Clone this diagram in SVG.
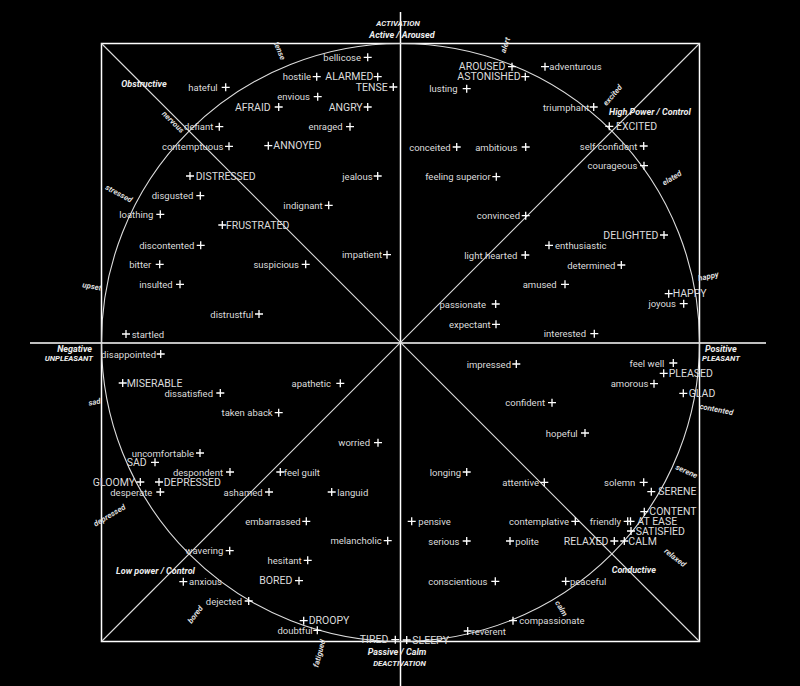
<svg xmlns="http://www.w3.org/2000/svg" xmlns:xlink="http://www.w3.org/1999/xlink" width="800" height="686" viewBox="0 0 800 686">
<defs>
<style>
.t{font-family:Roboto,"Liberation Sans",sans-serif;font-size:9.5px;fill:#dcdcdc}
.u{font-size:10.5px}
.e{text-anchor:end}
.b{font-family:Roboto,"Liberation Sans",sans-serif;font-weight:bold;font-style:italic;font-size:9px;fill:#eeeeee}
.s{font-size:7.8px}
.m{text-anchor:middle}
.c{font-family:Roboto,"Liberation Sans",sans-serif;font-weight:bold;font-style:italic;font-size:7.8px;fill:#dddddd;text-anchor:middle}
.ln{stroke:#ffffff;stroke-width:1.5;fill:none}
.th{stroke:#dddddd;stroke-width:1.1;fill:none}
</style>
<path id="x" d="M-4 0H4M0-4V4" stroke="#ffffff" stroke-width="1.3"/>
</defs>
<rect width="800" height="686" fill="#000000"/>
<g id="connectors">
<rect class="ln" x="101.5" y="43.5" width="598" height="598"/>
<line class="ln" x1="400.5" y1="12" x2="400.5" y2="686"/>
<line class="ln" x1="30" y1="343" x2="766" y2="343"/>
<line class="th" x1="101.5" y1="43.5" x2="699.5" y2="641.5"/>
<line class="th" x1="699.5" y1="43.5" x2="101.5" y2="641.5"/>
<circle class="th" cx="400.5" cy="342.5" r="299"/>
</g>
<g id="axis-labels">
<text class="b s m" x="398" y="26">ACTIVATION</text>
<text class="b m" x="402" y="37.5">Active / Aroused</text>
<text class="b m" x="397" y="655">Passive / Calm</text>
<text class="b s m" x="399.5" y="665.5">DEACTIVATION</text>
<text class="b e" x="92" y="352">Negative</text>
<text class="b s e" x="93" y="360.5">UNPLEASANT</text>
<text class="b" x="705" y="352">Positive</text>
<text class="b s" x="702" y="361">PLEASANT</text>
<text class="b" x="121.3" y="86.5">Obstructive</text>
<text class="b" x="609" y="115">High Power / Control</text>
<text class="b" x="116" y="574">Low power / Control</text>
<text class="b" x="611.7" y="573">Conductive</text>
</g>
<g id="circle-labels">
<text class="c" transform="translate(280,50.7) rotate(67.6)" y="3">tense</text>
<text class="c" transform="translate(505,45) rotate(-70.5)" y="3">alert</text>
<text class="c" transform="translate(612.3,95) rotate(-49.3)" y="3">excited</text>
<text class="c" transform="translate(671.7,177.7) rotate(-31.2)" y="3">elated</text>
<text class="c" transform="translate(708.3,276) rotate(-12)" y="3">happy</text>
<text class="c" transform="translate(716.5,409) rotate(11)" y="3">contented</text>
<text class="c" transform="translate(686.7,471) rotate(24.2)" y="3">serene</text>
<text class="c" transform="translate(675.3,557.3) rotate(38)" y="3">relaxed</text>
<text class="c" transform="translate(561.7,608.3) rotate(58.7)" y="3">calm</text>
<text class="c" transform="translate(319,653.3) rotate(-75.4)" y="3">fatigued</text>
<text class="c" transform="translate(195,614.3) rotate(-53)" y="3">bored</text>
<text class="c" transform="translate(109.3,515) rotate(-30.8)" y="3">depressed</text>
<text class="c" transform="translate(94.3,401.7) rotate(-11)" y="3">sad</text>
<text class="c" transform="translate(92,286) rotate(10.3)" y="3">upset</text>
<text class="c" transform="translate(119,193.3) rotate(27.9)" y="3">stressed</text>
<text class="c" transform="translate(173.3,121.7) rotate(44.2)" y="3">nervous</text>
</g>
<g id="nodes">
<g id="n-bellicose"><use xlink:href="#x" x="367.7" y="57.3"/><text class="t e" x="361" y="60.8">bellicose</text></g>
<g id="n-hostile"><use xlink:href="#x" x="316.7" y="76.7"/><text class="t e" x="311" y="80.2">hostile</text></g>
<g id="n-alarmed"><use xlink:href="#x" x="377.7" y="76.7"/><text class="t u e" x="373.3" y="80.4">ALARMED</text></g>
<g id="n-tense"><use xlink:href="#x" x="393.3" y="87"/><text class="t u e" x="387.7" y="90.7">TENSE</text></g>
<g id="n-hateful"><use xlink:href="#x" x="225.7" y="87.3"/><text class="t e" x="217.7" y="90.8">hateful</text></g>
<g id="n-envious"><use xlink:href="#x" x="317.7" y="96.7"/><text class="t e" x="310" y="100.2">envious</text></g>
<g id="n-afraid"><use xlink:href="#x" x="278.7" y="107"/><text class="t u e" x="270.7" y="110.7">AFRAID</text></g>
<g id="n-angry"><use xlink:href="#x" x="367.7" y="107"/><text class="t u e" x="362.7" y="110.7">ANGRY</text></g>
<g id="n-defiant"><use xlink:href="#x" x="219.3" y="126.7"/><text class="t e" x="213.3" y="130.2">defiant</text></g>
<g id="n-enraged"><use xlink:href="#x" x="350" y="126.7"/><text class="t e" x="342.7" y="130.2">enraged</text></g>
<g id="n-contemptuous"><use xlink:href="#x" x="229" y="146.3"/><text class="t e" x="223.3" y="149.8">contemptuous</text></g>
<g id="n-annoyed"><use xlink:href="#x" x="268.3" y="145.7"/><text class="t u" x="273.3" y="149.4">ANNOYED</text></g>
<g id="n-aroused"><use xlink:href="#x" x="512" y="66.7"/><text class="t u e" x="505.3" y="70.4">AROUSED</text></g>
<g id="n-astonished"><use xlink:href="#x" x="525.3" y="76.7"/><text class="t u e" x="520.7" y="80.4">ASTONISHED</text></g>
<g id="n-adventurous"><use xlink:href="#x" x="545" y="66.7"/><text class="t" x="549.3" y="70.2">adventurous</text></g>
<g id="n-lusting"><use xlink:href="#x" x="466.7" y="88.7"/><text class="t e" x="457.7" y="92.2">lusting</text></g>
<g id="n-triumphant"><use xlink:href="#x" x="593.7" y="107"/><text class="t e" x="589.3" y="110.5">triumphant</text></g>
<g id="n-excited"><use xlink:href="#x" x="609.3" y="126.3"/><text class="t u" x="616" y="130">EXCITED</text></g>
<g id="n-conceited"><use xlink:href="#x" x="456.7" y="147"/><text class="t e" x="450.7" y="150.5">conceited</text></g>
<g id="n-ambitious"><use xlink:href="#x" x="525.7" y="147"/><text class="t e" x="517.3" y="150.5">ambitious</text></g>
<g id="n-self-confident"><use xlink:href="#x" x="643.7" y="146"/><text class="t e" x="637.3" y="149.5">self confident</text></g>
<g id="n-courageous"><use xlink:href="#x" x="644" y="165.7"/><text class="t e" x="637.3" y="169.2">courageous</text></g>
<g id="n-distressed"><use xlink:href="#x" x="190" y="176"/><text class="t u" x="195.7" y="179.7">DISTRESSED</text></g>
<g id="n-jealous"><use xlink:href="#x" x="377.7" y="176"/><text class="t e" x="372.7" y="179.5">jealous</text></g>
<g id="n-disgusted"><use xlink:href="#x" x="200.3" y="195.7"/><text class="t e" x="193.3" y="199.2">disgusted</text></g>
<g id="n-indignant"><use xlink:href="#x" x="328.7" y="205.3"/><text class="t e" x="322.7" y="208.8">indignant</text></g>
<g id="n-loathing"><use xlink:href="#x" x="160.3" y="214.3"/><text class="t e" x="153.3" y="217.8">loathing</text></g>
<g id="n-frustrated"><use xlink:href="#x" x="222.3" y="225"/><text class="t u" x="226" y="228.7">FRUSTRATED</text></g>
<g id="n-discontented"><use xlink:href="#x" x="200.7" y="245.3"/><text class="t e" x="194.3" y="248.8">discontented</text></g>
<g id="n-impatient"><use xlink:href="#x" x="387" y="254.7"/><text class="t e" x="382" y="258.2">impatient</text></g>
<g id="n-bitter"><use xlink:href="#x" x="159.7" y="264.3"/><text class="t e" x="151.3" y="267.8">bitter</text></g>
<g id="n-suspicious"><use xlink:href="#x" x="305.7" y="264.3"/><text class="t e" x="299" y="267.8">suspicious</text></g>
<g id="n-insulted"><use xlink:href="#x" x="180" y="284.3"/><text class="t e" x="172.7" y="287.8">insulted</text></g>
<g id="n-distrustful"><use xlink:href="#x" x="259" y="314"/><text class="t e" x="253.3" y="317.5">distrustful</text></g>
<g id="n-startled"><use xlink:href="#x" x="126" y="334"/><text class="t" x="131.7" y="337.5">startled</text></g>
<g id="n-feeling-superior"><use xlink:href="#x" x="496.3" y="176.7"/><text class="t e" x="490.7" y="180.2">feeling superior</text></g>
<g id="n-convinced"><use xlink:href="#x" x="525.7" y="215.7"/><text class="t e" x="520" y="219.2">convinced</text></g>
<g id="n-delighted"><use xlink:href="#x" x="664" y="235"/><text class="t u e" x="658.3" y="238.7">DELIGHTED</text></g>
<g id="n-enthusiastic"><use xlink:href="#x" x="549" y="245.3"/><text class="t" x="555" y="248.8">enthusiastic</text></g>
<g id="n-light-hearted"><use xlink:href="#x" x="525.3" y="255"/><text class="t e" x="517.3" y="258.5">light hearted</text></g>
<g id="n-determined"><use xlink:href="#x" x="621.3" y="265"/><text class="t e" x="615.3" y="268.5">determined</text></g>
<g id="n-amused"><use xlink:href="#x" x="565" y="284.3"/><text class="t e" x="556.7" y="287.8">amused</text></g>
<g id="n-happy"><use xlink:href="#x" x="668.7" y="293.7"/><text class="t u" x="672.7" y="297.4">HAPPY</text></g>
<g id="n-joyous"><use xlink:href="#x" x="683.7" y="303.7"/><text class="t e" x="676" y="307.2">joyous</text></g>
<g id="n-passionate"><use xlink:href="#x" x="495.7" y="304"/><text class="t e" x="486" y="307.5">passionate</text></g>
<g id="n-expectant"><use xlink:href="#x" x="496" y="324.3"/><text class="t e" x="490.7" y="327.8">expectant</text></g>
<g id="n-interested"><use xlink:href="#x" x="594.3" y="333.7"/><text class="t e" x="586" y="337.2">interested</text></g>
<g id="n-disappointed"><use xlink:href="#x" x="160.7" y="354"/><text class="t e" x="156" y="357.5">disappointed</text></g>
<g id="n-miserable"><use xlink:href="#x" x="122.7" y="383"/><text class="t u" x="126.7" y="386.7">MISERABLE</text></g>
<g id="n-apathetic"><use xlink:href="#x" x="340.3" y="383.3"/><text class="t e" x="331" y="386.8">apathetic</text></g>
<g id="n-dissatisfied"><use xlink:href="#x" x="220.3" y="393"/><text class="t e" x="213" y="396.5">dissatisfied</text></g>
<g id="n-taken-aback"><use xlink:href="#x" x="278.7" y="412.7"/><text class="t e" x="272.7" y="416.2">taken aback</text></g>
<g id="n-worried"><use xlink:href="#x" x="378" y="442.7"/><text class="t e" x="370" y="446.2">worried</text></g>
<g id="n-uncomfortable"><use xlink:href="#x" x="200" y="453"/><text class="t e" x="194" y="456.5">uncomfortable</text></g>
<g id="n-sad"><use xlink:href="#x" x="155" y="462.3"/><text class="t u e" x="146.7" y="466">SAD</text></g>
<g id="n-despondent"><use xlink:href="#x" x="230" y="472"/><text class="t e" x="223" y="475.5">despondent</text></g>
<g id="n-feel-guilt"><use xlink:href="#x" x="280.3" y="472"/><text class="t" x="283.7" y="475.5">feel guilt</text></g>
<g id="n-gloomy"><use xlink:href="#x" x="140.3" y="482"/><text class="t u e" x="135" y="485.7">GLOOMY</text></g>
<g id="n-depressed"><use xlink:href="#x" x="159" y="482"/><text class="t u" x="163.7" y="485.7">DEPRESSED</text></g>
<g id="n-desperate"><use xlink:href="#x" x="160.3" y="492"/><text class="t e" x="152.3" y="495.5">desperate</text></g>
<g id="n-ashamed"><use xlink:href="#x" x="269" y="492"/><text class="t e" x="262.7" y="495.5">ashamed</text></g>
<g id="n-languid"><use xlink:href="#x" x="331.7" y="492"/><text class="t" x="337.3" y="495.5">languid</text></g>
<g id="n-impressed"><use xlink:href="#x" x="516.3" y="364"/><text class="t e" x="511" y="367.5">impressed</text></g>
<g id="n-feel-well"><use xlink:href="#x" x="673.3" y="363"/><text class="t e" x="664.3" y="366.5">feel well</text></g>
<g id="n-pleased"><use xlink:href="#x" x="663.7" y="373.3"/><text class="t u" x="668.7" y="377">PLEASED</text></g>
<g id="n-amorous"><use xlink:href="#x" x="654" y="383.7"/><text class="t e" x="648.3" y="387.2">amorous</text></g>
<g id="n-glad"><use xlink:href="#x" x="683.3" y="393.3"/><text class="t u" x="688.7" y="397">GLAD</text></g>
<g id="n-confident"><use xlink:href="#x" x="552" y="402.7"/><text class="t e" x="545" y="406.2">confident</text></g>
<g id="n-hopeful"><use xlink:href="#x" x="585" y="433"/><text class="t e" x="577.7" y="436.5">hopeful</text></g>
<g id="n-longing"><use xlink:href="#x" x="466.7" y="472"/><text class="t e" x="461" y="475.5">longing</text></g>
<g id="n-attentive"><use xlink:href="#x" x="544.3" y="482.3"/><text class="t e" x="539" y="485.8">attentive</text></g>
<g id="n-solemn"><use xlink:href="#x" x="643.7" y="482.3"/><text class="t e" x="635.3" y="485.8">solemn</text></g>
<g id="n-serene"><use xlink:href="#x" x="651.3" y="491.7"/><text class="t u" x="658.3" y="495.4">SERENE</text></g>
<g id="n-embarrassed"><use xlink:href="#x" x="306.3" y="521.3"/><text class="t e" x="300.7" y="524.8">embarrassed</text></g>
<g id="n-melancholic"><use xlink:href="#x" x="387.7" y="540.7"/><text class="t e" x="381.7" y="544.2">melancholic</text></g>
<g id="n-wavering"><use xlink:href="#x" x="229.7" y="550.7"/><text class="t e" x="223.3" y="554.2">wavering</text></g>
<g id="n-hesitant"><use xlink:href="#x" x="307.7" y="560.3"/><text class="t e" x="301.7" y="563.8">hesitant</text></g>
<g id="n-anxious"><use xlink:href="#x" x="183.3" y="581.7"/><text class="t" x="189" y="585.2">anxious</text></g>
<g id="n-bored"><use xlink:href="#x" x="299" y="580.7"/><text class="t u e" x="292.3" y="584.4">BORED</text></g>
<g id="n-dejected"><use xlink:href="#x" x="248.7" y="601"/><text class="t e" x="242" y="604.5">dejected</text></g>
<g id="n-droopy"><use xlink:href="#x" x="303.7" y="620.7"/><text class="t u" x="308.7" y="624.4">DROOPY</text></g>
<g id="n-doubtful"><use xlink:href="#x" x="317.3" y="630.3"/><text class="t e" x="312.7" y="633.8">doubtful</text></g>
<g id="n-tired"><use xlink:href="#x" x="395.3" y="639.7"/><text class="t u e" x="388.3" y="643.4">TIRED</text></g>
<g id="n-content"><use xlink:href="#x" x="644.3" y="511.7"/><text class="t u" x="649.3" y="515.4">CONTENT</text></g>
<g id="n-pensive"><use xlink:href="#x" x="411.7" y="521.3"/><text class="t" x="418.3" y="524.8">pensive</text></g>
<g id="n-contemplative"><use xlink:href="#x" x="575.3" y="521.3"/><text class="t e" x="569" y="524.8">contemplative</text></g>
<g id="n-friendly"><use xlink:href="#x" x="627.7" y="521.3"/><text class="t e" x="621" y="524.8">friendly</text></g>
<g id="n-at-ease"><use xlink:href="#x" x="630.5" y="521.3"/><text class="t u" x="637.3" y="525">AT EASE</text></g>
<g id="n-satisfied"><use xlink:href="#x" x="631" y="531"/><text class="t u" x="635.7" y="534.7">SATISFIED</text></g>
<g id="n-serious"><use xlink:href="#x" x="466.7" y="541"/><text class="t e" x="459.3" y="544.5">serious</text></g>
<g id="n-polite"><use xlink:href="#x" x="510" y="541"/><text class="t" x="515.3" y="544.5">polite</text></g>
<g id="n-relaxed"><use xlink:href="#x" x="614.3" y="541"/><text class="t u e" x="608.3" y="544.7">RELAXED</text></g>
<g id="n-calm"><use xlink:href="#x" x="624.3" y="541"/><text class="t u" x="628.3" y="544.7">CALM</text></g>
<g id="n-conscientious"><use xlink:href="#x" x="495.3" y="581.3"/><text class="t e" x="487.3" y="584.8">conscientious</text></g>
<g id="n-peaceful"><use xlink:href="#x" x="565.7" y="581.3"/><text class="t" x="570" y="584.8">peaceful</text></g>
<g id="n-compassionate"><use xlink:href="#x" x="513" y="620.7"/><text class="t" x="519.3" y="624.2">compassionate</text></g>
<g id="n-reverent"><use xlink:href="#x" x="467.7" y="631"/><text class="t" x="471.7" y="634.5">reverent</text></g>
<g id="n-sleepy"><use xlink:href="#x" x="406.7" y="640"/><text class="t u" x="412.3" y="643.7">SLEEPY</text></g>
</g>
</svg>
